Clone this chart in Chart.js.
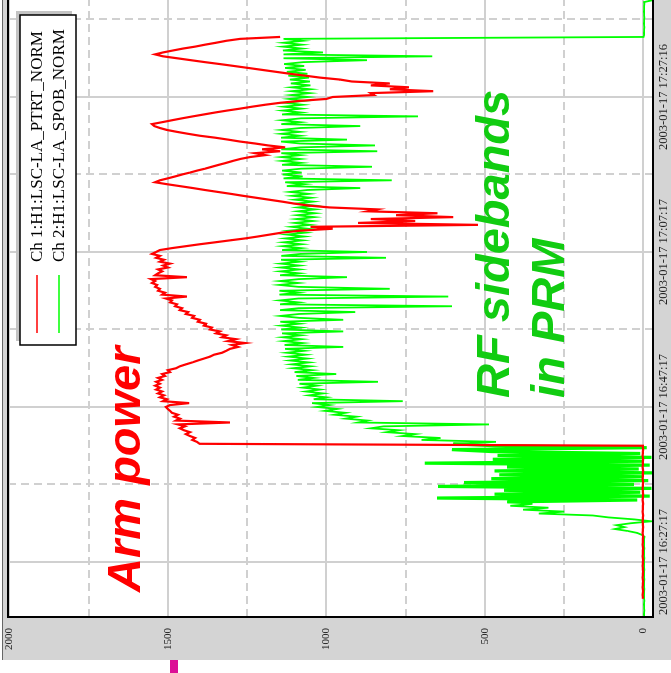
<!DOCTYPE html>
<html><head><meta charset="utf-8">
<script src="https://cdn.jsdelivr.net/npm/chart.js@4.4.1/dist/chart.umd.min.js"></script>
<style>
html,body{margin:0;padding:0;background:#fff;overflow:hidden;width:671px;height:673px;}
#stage{position:relative;width:671px;height:673px;overflow:hidden;}
#gray{position:absolute;left:3px;top:0;width:668px;height:660px;background:#d4d4d4;}
#edge{position:absolute;left:2px;top:0;width:1px;height:660px;background:#666;}
#mark{position:absolute;left:170px;top:660px;width:8px;height:13px;background:#dc0f96;}
#chart{position:absolute;left:0;top:0;width:700px;height:671px;transform-origin:0 0;transform:translate(0px,673px) rotate(-90deg);}
</style></head>
<body><div id="stage"><div id="gray"></div><div id="edge"></div><div id="mark"></div>
<canvas id="chart" width="700" height="671"></canvas></div>
<script>
// time base: seconds relative to 2003-01-17 16:27:17
const START_SECONDS = -420;
const STEP_SECONDS = 15;
const seriesNames = ['Ch 1:H1:LSC-LA_PTRT_NORM', 'Ch 2:H1:LSC-LA_SPOB_NORM'];

// Ch 1 (arm power, red)
const armPower = [
  null,null,null,null,null,null,null,null,null,
  2,2,3,2,1,2,3,2,2,1, 2,3,2,2,1,2,2,3,2,2, 1,2,3,2,2,2,1,2,3,2, 2,2,1,2,3,2,2,1,2,2,
  3,2,2,1,2,3,2,2,2,1, 2,3,2,2,1,2,2,3,2,2, 1,2,3,2,2,2,1,2,3,2, 2,2,1,2,3,2,2,1,2,2,
  1400,1408,1423,1414,1430,1443,1430,1449,1462,1446,
  1468,1304,1474,1462,1480,1468,1487,1493,1500,1506,
  1493,1433,1515,1503,1525,1512,1531,1518,1537,1525,
  1540,1525,1537,1518,1531,1509,1518,1493,1500,1474,
  1462,1443,1423,1405,1386,1367,1354,1329,1316,1304,
  1279,1298,1256,1310,1285,1329,1316,1348,1336,1367,
  1361,1386,1380,1405,1399,1423,1417,1443,1436,1462,
  1455,1477,1471,1493,1487,1506,1440,1518,1509,1531,
  1525,1540,1534,1550,1540,1553,1440,1540,1531,1518,
  1531,1500,1515,1493,1525,1512,1537,1525,1550,1537,
  1525,1487,1443,1399,1351,1304,1256,1216,1178,1140,
  1083,980,1050,522,900,720,860,600,780,650,
  870,840,990,1058,1102,1140,1181,1222,1263,1301,
  1342,1383,1421,1462,1503,1540,1525,1500,1477,1455,
  1430,1408,1383,1361,1339,1316,1295,1272,1241,1193,
  1225,1146,1203,1130,1184,1225,1272,1310,1351,1399,
  1436,1471,1503,1525,1543,1550,1518,1487,1455,1421,
  1386,1351,1313,1272,1234,1193,1146,1083,1000,980,
  850,860,663,800,740,860,800,920,957,1020,
  1067,1115,1159,1203,1247,1291,1336,1383,1427,1471,
  1515,1540,1515,1484,1452,1414,1383,1348,1316,1272,
  1146
];

// Ch 2 (RF sidebands, green)
const rfSidebands = [
  -2,-1,-2,-3,-2,-2,-1,-2,-3,-2, -2,-1,-2,-2,-3,-2,-1,-2,-2,-3,
  -2,-2,-1,-2,-3,-2,-2,-1,-2,-2, -3,-2,-1,-2,-2,-3,-2,-2,-1,-2, -2,
  -3,5,20,50,90,60,85,40,-25,30,110,160,330,250,380,300,420,350,430,
  20,651,-20,470,10,440,-25,648,30,566,
  -15,480,5,455,-30,470,15,430,-20,690,
  0,475,-25,460,10,480,604,-10,470,
  600,465,700,640,760,720,810,770,860,820,
  487,900,870,940,905,975,940,1005,965,1030,
  990,1045,759,
  1040,1000,1055,1010,1065,1020,1075,1030,1085,837,
  1090,1040,1095,969,1100,1045,1105,1050,1110,1055,
  1115,1060,1120,1065,1125,1070,1130,947,1132,1075,
  1135,1078,1138,1080,1140,947,1142,1082,1143,1085,
  1145,947,1085,1145,1087,909,1146,1088,604,1146,
  1088,1147,1088,616,1148,1088,1148,800,1088,1148,
  1088,1147,1087,935,1146,1086,1145,1085,1145,1085,
  1144,1084,1143,812,1142,1082,872,1140,1080,1138,
  1078,1135,1075,1130,1070,1125,1065,1118,1058,1110,
  1050,1100,1042,1095,1038,1092,1035,1090,1035,1090,
  1038,1095,1042,1100,1048,1108,1055,1115,1060,893,
  1125,1068,1130,794,1135,1075,1138,1078,1140,1080,
  856,1140,1080,1140,1082,1142,1082,1142,840,1142,
  1082,847,1083,1143,935,1143,1083,1143,1083,1142,
  1082,893,1142,1082,1140,1080,711,1140,1080,1138,
  1078,1135,1075,1130,1070,1118,1058,1112,1052,1110,
  1050,1110,1050,1112,1052,1115,1055,1120,1060,1125,
  1065,1130,1070,1133,1073,872,1135,666,1135,1011,
  1137,1077,1137,1077,1135,1075,1135,
  0,-2,-1,-2,-2,-3,-2,-1,-2,-2,-3,-2,-2,-1,-2,-2,-2,-3,-2,-30,-2,-1
];

const xGridSeconds = [0, 600, 1200, 1800, 2400, 3000, 3600, 4200];
const xTickSeconds = [0, 1200, 2400, 3600];
const xTickLabels = ['2003-01-17 16:27:17', '2003-01-17 16:47:17', '2003-01-17 17:07:17', '2003-01-17 17:27:16'];
const yGridValues = [0, 250, 500, 750, 1000, 1250, 1500, 1750, 2000];
const yTickValues = [0, 500, 1000, 1500, 2000];

const noteTexts = ['Arm power', 'RF sidebands', 'in PRM'];
const noteAnchors = [[-232, 1587], [1270, 424], [1270, 251]]; // [seconds, value] of text baseline start
const noteColors = ['#ff0000', '#11cc11', '#11cc11'];

const toPoints = arr => arr.map((v, i) => ({x: START_SECONDS + i * STEP_SECONDS, y: v}));

const SERIF = "'Liberation Serif', 'Times New Roman', serif";

const deco = {
  id: 'deco',
  beforeDraw(chart) {
    const {ctx, chartArea: a} = chart;
    ctx.save();
    ctx.fillStyle = '#ffffff';
    ctx.fillRect(a.left, a.top, a.right - a.left, a.bottom - a.top);
    ctx.restore();
  },
  afterDatasetsDraw(chart) {
    const {ctx, chartArea: a, scales} = chart;
    ctx.save();
    ctx.font = "italic bold 47px 'Liberation Sans', Arial, sans-serif";
    ctx.textBaseline = 'alphabetic';
    ctx.textAlign = 'left';
    noteTexts.forEach((t, i) => {
      ctx.fillStyle = noteColors[i];
      ctx.fillText(t, scales.x.getPixelForValue(noteAnchors[i][0]), scales.y.getPixelForValue(noteAnchors[i][1]));
    });
    ctx.strokeStyle = '#000';
    ctx.lineWidth = 2;
    ctx.strokeRect(a.left, a.top, a.right - a.left, a.bottom - a.top);
    const bx = 328, by = 20, bw = 330, bh = 56;
    ctx.fillStyle = '#c4c4c4';
    ctx.fillRect(bx + 4, by - 4, bw, bh);
    ctx.fillStyle = '#fff';
    ctx.fillRect(bx, by, bw, bh);
    ctx.lineWidth = 1.5;
    ctx.strokeStyle = '#000';
    ctx.strokeRect(bx, by, bw, bh);
    const rows = [37, 59];
    chart.data.datasets.forEach((ds, i) => {
      ctx.strokeStyle = ds.borderColor;
      ctx.lineWidth = 1.5;
      ctx.beginPath();
      ctx.moveTo(340, rows[i]);
      ctx.lineTo(398, rows[i]);
      ctx.stroke();
      ctx.fillStyle = '#000';
      ctx.font = '17px ' + SERIF;
      ctx.textBaseline = 'middle';
      ctx.fillText(ds.label, 411, rows[i] + 1);
    });
    ctx.restore();
  }
};

const BLOCK_FIRST = 59, BLOCK_LAST = 89; // dense oscillation stretch of Ch 2

new Chart(document.getElementById('chart'), {
  type: 'line',
  data: {
    datasets: [
      {label: seriesNames[0], data: toPoints(armPower), borderColor: '#ff0000', borderWidth: 2.2, pointRadius: 0, tension: 0, fill: false},
      {label: seriesNames[1], data: toPoints(rfSidebands), borderColor: '#00ff00', borderWidth: 1.8, pointRadius: 0, tension: 0, fill: false,
       segment: {borderWidth: c => (c.p0DataIndex >= BLOCK_FIRST && c.p1DataIndex <= BLOCK_LAST) ? 3.2 : 1.8}}
    ]
  },
  options: {
    responsive: false,
    animation: false,
    devicePixelRatio: 1,
    layout: {padding: {top: 8, left: 0, right: 0, bottom: 0}},
    plugins: {legend: {display: false}, tooltip: {enabled: false}},
    scales: {
      x: {
        type: 'linear', position: 'bottom', min: -426, max: 4560,
        afterBuildTicks: s => { s.ticks = xGridSeconds.map(v => ({value: v})); },
        afterFit: s => { s.height = 18; s.paddingLeft = 0; s.paddingRight = 0; },
        ticks: {
          autoSkip: false, maxRotation: 0, minRotation: 0, padding: 3, color: '#222',
          font: {family: SERIF, size: 12.5},
          callback: v => { const k = xTickSeconds.indexOf(v); return k >= 0 ? xTickLabels[k] : ''; }
        },
        grid: {color: '#d0d0d0', lineWidth: 2, drawTicks: false},
        border: {display: false, dash: c => (c.tick && xTickSeconds.includes(c.tick.value)) ? [] : [8, 5]}
      },
      y: {
        type: 'linear', position: 'left', min: -30, max: 2004,
        afterBuildTicks: s => { s.ticks = yGridValues.map(v => ({value: v})); },
        afterFit: s => { s.width = 56; s.paddingTop = 0; s.paddingBottom = 0; },
        ticks: {
          padding: 11, color: '#222', font: {family: SERIF, size: 11},
          callback: v => yTickValues.includes(v) ? String(v) : ''
        },
        grid: {color: '#d0d0d0', lineWidth: 2, drawTicks: false},
        border: {display: false, dash: c => (c.tick && yTickValues.includes(c.tick.value)) ? [] : [8, 5]}
      }
    }
  },
  plugins: [deco]
});
</script></body></html>
